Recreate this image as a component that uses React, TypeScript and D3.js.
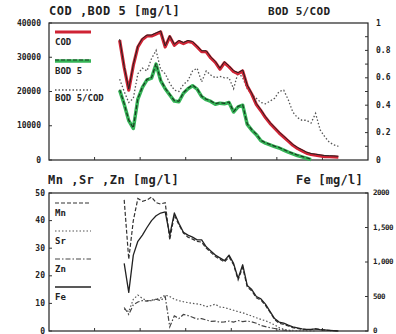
import React from "react";
import * as d3 from "d3";

// x index: sample day (no x labels shown)
const TOP_DAY0 = 15.5;
const BOTTOM_DAY0 = 16.5;

const COD = [35000, 27000, 20400, 27600, 33000, 35200, 36200, 36200, 36800, 37400, 33000, 36000, 33500, 34600, 34000, 34600, 34300, 33000, 31600, 31600, 29800, 28500, 26500, 28400, 27200, 25800, 25200, 26000, 21600, 19200, 16200, 14400, 12400, 10700, 9300, 7900, 6700, 5500, 4300, 3400, 2700, 2000, 1600, 1400, 1200, 1000, 950, 900, 800];
const BOD5 = [20400, 16300, 11500, 9200, 17800, 21200, 23400, 23900, 28000, 23200, 20800, 19000, 17200, 17000, 19500, 20800, 21700, 20700, 18500, 17600, 17100, 16300, 16600, 16400, 16800, 14000, 15500, 16000, 10400, 8700, 7400, 5600, 4900, 4400, 3900, 3500, 2900, 2300, 1800, 1300, 900, 500, 100];
const RATIO = [0.59, 0.5, 0.42, 0.45, 0.63, 0.67, 0.65, 0.74, 0.8, 0.66, 0.63, 0.56, 0.51, 0.5, 0.55, 0.58, 0.65, 0.67, 0.57, 0.65, 0.62, 0.6, 0.61, 0.6, 0.6, 0.52, 0.64, 0.6, 0.52, 0.48, 0.45, 0.42, 0.41, 0.43, 0.45, 0.5, 0.51, 0.44, 0.35, 0.31, 0.29, 0.29, 0.27, 0.34, 0.22, 0.17, 0.13, 0.11, 0.1];

const FE = [980, 560, 1100, 1300, 1390, 1500, 1600, 1670, 1710, 1725, 1390, 1710, 1560, 1430, 1390, 1360, 1320, 1320, 1220, 1160, 1100, 1060, 1020, 1100, 980, 760, 960, 660, 600, 500, 465, 390, 285, 180, 130, 115, 85, 60, 45, 30, 24, 25, 30, 20, 15, 10, 5, 0];
const MN = [47.5, 26, 40, 48, 47, 47.5, 48.5, 46.5, 46, 46.5, 33, 42, 38.5, 35.5, 34, 33.3, 32.5, 32.2, 30, 28.5, 27, 26, 25, 26.8, 24, 18.5, 23, 16, 14.5, 12, 11.2, 9.3, 6.8, 4.2, 2.8, 2.4, 1.8, 1.2, 0.9, 0.6, 0.5, 0.5, 0.8, 0.5, 0.3, 0.2, 0.1, 0];
const SR = [8, 7, 11.5, 13, 11.8, 11, 11, 11.5, 12, 13, 12.5, 11.5, 11, 10.6, 10.3, 10, 9.8, 9.5, 8.8, 9.2, 9.7, 8.7, 8.5, 8, 7.5, 7, 6.6, 6, 5.4, 4.8, 4.2, 3.7, 3, 2.2, 1.2, 0.6, 0.3, 0.2, 0.1, 0.1, 0.1, 0, 0];
const ZN = [8.5, 6, 9.5, 10.5, 11, 10.8, 11.2, 11.5, 11, 12.5, 1.5, 5.5, 4.5, 6, 5.6, 5, 4.3, 4.5, 4, 3.5, 3.6, 3.2, 3.3, 3.6, 3.2, 3.8, 3.4, 3.6, 3.3, 2.8, 2, 1.6, 1.2, 0.9, 0.6, 0.3, 0.1, 0];

const TOP_LEFT_TICKS = [0, 10000, 20000, 30000, 40000];
const TOP_LEFT_LABELS = ["0", "10000", "20000", "30000", "40000"];
const TOP_RIGHT_TICKS = [0, 0.2, 0.4, 0.6, 0.8, 1];
const TOP_RIGHT_LABELS = ["0", "0.2", "0.4", "0.6", "0.8", "1"];
const BOT_LEFT_TICKS = [0, 10, 20, 30, 40, 50];
const BOT_RIGHT_TICKS = [0, 500, 1000, 1500, 2000];
const BOT_RIGHT_LABELS = ["0", "500", "1,000", "1,500", "2000"];
const X_TICKS = [10, 20, 30, 40, 50, 60];

const RED = "#cf2334";
const GREEN = "#35b457";
const FONT = "'DejaVu Sans Mono', monospace";

const x = d3.scaleLinear().domain([0, 70]).range([49, 368]);
const yTopL = d3.scaleLinear().domain([0, 40000]).range([160, 23]);
const yTopR = d3.scaleLinear().domain([0, 1]).range([160, 23]);
const yBotL = d3.scaleLinear().domain([0, 50]).range([331, 193]);
const yBotR = d3.scaleLinear().domain([0, 2000]).range([331, 193]);

function path(vals: number[], day0: number, y: d3.ScaleLinear<number, number>) {
  const line = d3
    .line<number>()
    .x((_, i) => x(day0 + i))
    .y((v) => y(v));
  return line(vals) || "";
}

function Frame({ top, bottom }: { top: number; bottom: number }) {
  return (
    <g>
      <rect x={49} y={top} width={319} height={bottom - top} fill="none" stroke="#222" strokeWidth={1.2} />
      {X_TICKS.map((t) => (
        <line key={t} x1={x(t)} x2={x(t)} y1={bottom} y2={bottom - 3} stroke="#333" strokeWidth={1} />
      ))}
    </g>
  );
}

export default function App() {
  const labelStyle = { fontFamily: FONT, fontWeight: 700, fill: "#222" } as const;
  return (
    <svg
      width={396}
      height={334}
      style={{ position: "absolute", left: 0, top: 0, background: "#fff" }}
    >
      <rect width={396} height={334} fill="#fff" />
      {/* ---------- TOP PANEL ---------- */}
      <Frame top={23} bottom={160} />
      <text x={49} y={15} fontSize={12} letterSpacing={0.5} style={labelStyle}>
        COD ,BOD 5 [mg/l]
      </text>
      <text x={268} y={15} fontSize={11} letterSpacing={0.3} style={labelStyle}>
        BOD 5/COD
      </text>
      {TOP_LEFT_TICKS.map((t, i) => (
        <g key={t}>
          <text x={41} y={yTopL(t)} fontSize={8} textAnchor="end" dominantBaseline="middle" style={labelStyle}>
            {TOP_LEFT_LABELS[i]}
          </text>
          <line x1={49} x2={52} y1={yTopL(t)} y2={yTopL(t)} stroke="#333" />
        </g>
      ))}
      {d3.range(1, 10).map((i) => (
        <line key={i} x1={368} x2={365} y1={yTopR(i / 10)} y2={yTopR(i / 10)} stroke="#333" />
      ))}
      {TOP_RIGHT_TICKS.map((t, i) => (
        <text key={t} x={376} y={yTopR(t)} fontSize={8} dominantBaseline="middle" style={labelStyle}>
          {TOP_RIGHT_LABELS[i]}
        </text>
      ))}
      {/* legend */}
      <line x1={55} x2={91} y1={32} y2={32} stroke={RED} strokeWidth={3.2} />
      <text x={55} y={45} fontSize={9} style={labelStyle}>COD</text>
      <line x1={55} x2={91} y1={61} y2={61} stroke={GREEN} strokeWidth={3.5} />
      <line x1={55} x2={91} y1={60} y2={60} stroke="#1a3a22" strokeWidth={1.2} strokeDasharray="4,2" />
      <text x={55} y={74} fontSize={9} style={labelStyle}>BOD 5</text>
      <line x1={55} x2={91} y1={90} y2={90} stroke="#555" strokeWidth={1.3} strokeDasharray="1.5,2" />
      <text x={55} y={101} fontSize={9} style={labelStyle}>BOD 5/COD</text>
      {/* data */}
      <path d={path(RATIO, TOP_DAY0, yTopR)} fill="none" stroke="#555" strokeWidth={1.3} strokeDasharray="1.5,2" />
      <path d={path(COD, TOP_DAY0, yTopL)} fill="none" stroke={RED} strokeWidth={3.2} strokeLinejoin="round" />
      <path d={path(COD, TOP_DAY0, yTopL)} transform="translate(0,-1)" fill="none" stroke="#222" strokeWidth={1} strokeLinejoin="round" />
      <path d={path(BOD5, TOP_DAY0, yTopL)} fill="none" stroke={GREEN} strokeWidth={3.5} strokeLinejoin="round" />
      <path d={path(BOD5, TOP_DAY0, yTopL)} transform="translate(0,-0.5)" fill="none" stroke="#1a3a22" strokeWidth={1.2} strokeDasharray="4,2" strokeLinejoin="round" />

      {/* ---------- BOTTOM PANEL ---------- */}
      <Frame top={193} bottom={331} />
      <text x={48} y={184} fontSize={12} letterSpacing={0.5} style={labelStyle}>
        Mn ,Sr ,Zn [mg/l]
      </text>
      <text x={296} y={184} fontSize={12} letterSpacing={0.2} style={labelStyle}>
        Fe [mg/l]
      </text>
      {BOT_LEFT_TICKS.map((t) => (
        <g key={t}>
          <text x={45} y={yBotL(t)} fontSize={8} textAnchor="end" dominantBaseline="middle" style={labelStyle}>
            {t}
          </text>
          <line x1={49} x2={52} y1={yBotL(t)} y2={yBotL(t)} stroke="#333" />
        </g>
      ))}
      {BOT_RIGHT_TICKS.map((t, i) => (
        <g key={t}>
          <line x1={368} x2={365} y1={yBotR(t)} y2={yBotR(t)} stroke="#333" />
          <text x={373} y={yBotR(t)} fontSize={7.5} letterSpacing={-0.5} dominantBaseline="middle" style={labelStyle}>
            {BOT_RIGHT_LABELS[i]}
          </text>
        </g>
      ))}
      {/* legend */}
      <line x1={55} x2={91} y1={203} y2={203} stroke="#333" strokeWidth={1.2} strokeDasharray="4,2" />
      <text x={55} y={216} fontSize={9} style={labelStyle}>Mn</text>
      <line x1={55} x2={91} y1={231} y2={231} stroke="#555" strokeWidth={1.2} strokeDasharray="1.5,2" />
      <text x={55} y={244} fontSize={9} style={labelStyle}>Sr</text>
      <line x1={55} x2={91} y1={259} y2={259} stroke="#444" strokeWidth={1.2} strokeDasharray="5,2,1.5,2" />
      <text x={55} y={272} fontSize={9} style={labelStyle}>Zn</text>
      <line x1={55} x2={91} y1={287} y2={287} stroke="#222" strokeWidth={1.3} />
      <text x={55} y={300} fontSize={9} style={labelStyle}>Fe</text>
      {/* data */}
      <path d={path(SR, BOTTOM_DAY0, yBotL)} fill="none" stroke="#555" strokeWidth={1.2} strokeDasharray="1.5,2" />
      <path d={path(ZN, BOTTOM_DAY0, yBotL)} fill="none" stroke="#444" strokeWidth={1.2} strokeDasharray="5,2,1.5,2" />
      <path d={path(MN, BOTTOM_DAY0, yBotL)} fill="none" stroke="#333" strokeWidth={1.2} strokeDasharray="4,2" />
      <path d={path(FE, BOTTOM_DAY0, yBotR)} fill="none" stroke="#222" strokeWidth={1.3} strokeLinejoin="round" />
    </svg>
  );
}
